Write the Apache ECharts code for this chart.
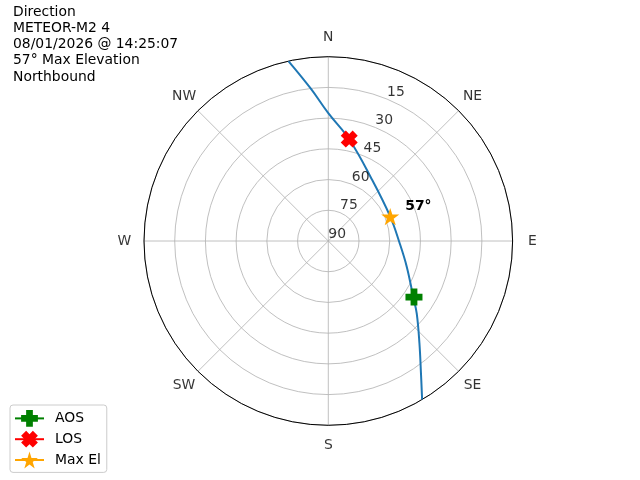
<!DOCTYPE html>
<html><head><meta charset="utf-8">
<script src="https://cdn.jsdelivr.net/npm/echarts@6/dist/echarts.min.js"></script>
<style>html,body{margin:0;padding:0;background:#fff}#c{width:640px;height:480px}</style>
</head><body><div id="c"></div>
<script>
const titleLines = ['Direction', 'METEOR-M2 4', '08/01/2026 @ 14:25:07', '57° Max Elevation', 'Northbound'];
const directionLabels = ['N', 'NE', 'E', 'SE', 'S', 'SW', 'W', 'NW'];
const directionAngles = [0, 45, 90, 135, 180, 225, 270, 315];
const ringLabels = [90, 75, 60, 45, 30, 15];
const ringLabelAngle = 22.5;
// pass track (elevation in degrees, azimuth in degrees), from SE horizon to N horizon
const passElevation = [0, 11.1, 23.1, 34.2, 40.3, 49.7, 55.3, 57.5, 53.1, 39.2, 27.6, 15.0, 0];
const passAzimuth   = [149.4, 145.0, 138.3, 129.3, 123.4, 108.1, 91.0, 68.5, 35.1, 11.5, 0, 353.4, 347.5];
const aosPoint = [40.0, 123.2];
const losPoint = [39.2, 11.6];
const maxElPoint = [57.5, 68.5];
const maxElLabel = '57°';

const FONT = 'DejaVu Sans';
const FS = 13.9;
const plusPath = 'path://M3,0H7V3H10V7H7V10H3V7H0V3H3Z';
const xPath = 'path://M0,3L3,0L5,2L7,0L10,3L8,5L10,7L7,10L5,8L3,10L0,7L2,5Z';
const starPath = 'path://M10,0L12.245,6.91L19.51,6.91L13.63,11.18L15.88,18.09L10,13.82L4.12,18.09L6.37,11.18L0.49,6.91L7.755,6.91Z';

const chart = echarts.init(document.getElementById('c'), null, {renderer: 'canvas'});
chart.setOption({
  animation: false,
  backgroundColor: '#ffffff',
  textStyle: {fontFamily: FONT},
  title: {
    text: titleLines.join('\n'),
    left: 13, top: 4, padding: 0,
    textStyle: {fontFamily: FONT, fontSize: FS, fontWeight: 'normal', color: '#000', lineHeight: 16.2}
  },
  legend: {
    data: ['AOS', 'LOS', 'Max El'],
    orient: 'vertical',
    left: 10, top: 405,
    padding: [5, 6, 4, 4],
    itemWidth: 29, itemHeight: 21, itemGap: 4,
    borderColor: '#cccccc', borderWidth: 1, borderRadius: 3,
    backgroundColor: 'rgba(255,255,255,0.8)',
    textStyle: {fontFamily: FONT, fontSize: FS, color: '#000', padding: [0, 0, 0, 6]}
  },
  polar: {center: [328.3, 241], radius: 184.3},
  angleAxis: {
    type: 'value', min: 0, max: 360, interval: 45, startAngle: 90, clockwise: true, z: 1,
    axisLine: {lineStyle: {color: '#000', width: 1}},
    axisTick: {show: false}, axisLabel: {show: false},
    splitLine: {lineStyle: {color: '#b0b0b0', width: 0.8}}
  },
  radiusAxis: {
    type: 'value', min: 0, max: 90, interval: 15, inverse: true, z: 0,
    axisLine: {show: false}, axisTick: {show: false}, axisLabel: {show: false},
    splitLine: {lineStyle: {color: '#b0b0b0', width: 0.8}}
  },
  series: [
    {
      name: 'track', type: 'line', coordinateSystem: 'polar', z: 2,
      data: passElevation.map((e, i) => [e, passAzimuth[i]]),
      showSymbol: false, symbol: 'none', smooth: 0.4,
      lineStyle: {color: '#1f77b4', width: 2}
    },
    {
      name: 'AOS', type: 'line', coordinateSystem: 'polar', z: 4,
      data: [aosPoint], symbol: plusPath, symbolSize: 17, symbolKeepAspect: true,
      itemStyle: {color: '#008000'}, lineStyle: {color: '#008000', width: 2}
    },
    {
      name: 'LOS', type: 'line', coordinateSystem: 'polar', z: 4,
      data: [losPoint], symbol: xPath, symbolSize: 17, symbolKeepAspect: true,
      itemStyle: {color: '#ff0000'}, lineStyle: {color: '#ff0000', width: 2}
    },
    {
      name: 'Max El', type: 'line', coordinateSystem: 'polar', z: 4,
      data: [maxElPoint], symbol: starPath, symbolSize: 18, symbolKeepAspect: true,
      itemStyle: {color: '#ffa500'}, lineStyle: {color: '#ffa500', width: 2},
      label: {show: true, formatter: maxElLabel, position: 'right', distance: 6, offset: [0, -10],
        fontFamily: FONT, fontSize: FS, fontWeight: 'bold', color: '#000'}
    },
    {
      name: 'ringLabels', type: 'scatter', coordinateSystem: 'polar', z: 3, clip: false,
      data: ringLabels.map(v => [v, ringLabelAngle]),
      symbolSize: 0, itemStyle: {color: 'transparent'}, silent: true,
      label: {show: true, position: [0, 0], align: 'left', verticalAlign: 'bottom',
        formatter: p => String(p.value[0]), fontFamily: FONT, fontSize: FS, color: '#000'}
    },
    {
      name: 'dirLabels', type: 'scatter', coordinateSystem: 'polar', z: 3, clip: false,
      data: directionAngles.map(a => [-9.62, a]),
      symbolSize: 0, itemStyle: {color: 'transparent'}, silent: true,
      label: {show: true, position: 'inside', align: 'center', verticalAlign: 'middle',
        formatter: p => directionLabels[p.dataIndex], fontFamily: FONT, fontSize: FS, color: '#000'}
    }
  ]
});
</script></body></html>
